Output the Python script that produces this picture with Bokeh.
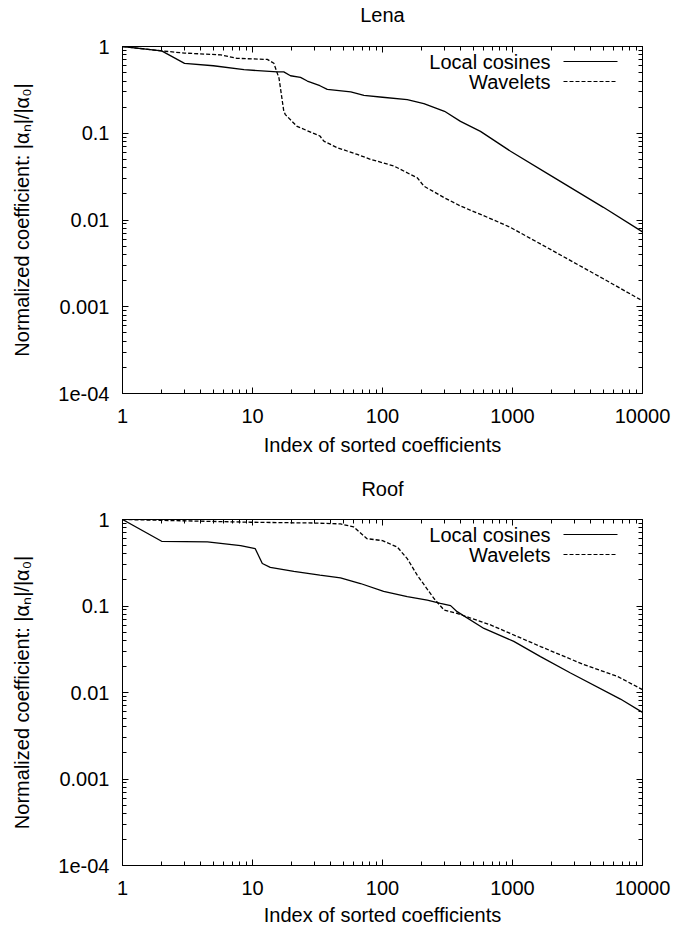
from bokeh.plotting import figure
from bokeh.models import (LogAxis, FixedTicker, CustomJSTickFormatter, Arrow,
                          Label, Range1d, ColumnDataSource)
from bokeh.layouts import column
from bokeh.embed import file_html
from bokeh.resources import INLINE

# ---------------- data ----------------
lena_lc_n = [1, 2, 3, 5, 8.6, 15.5, 17.4, 19.6, 23.4, 26.4, 33, 37.6, 57, 72, 100, 155,
             208, 300, 398, 567, 966, 2000, 5000, 10000]
lena_lc_v = [1.0, 0.89, 0.64, 0.60, 0.54, 0.51, 0.51, 0.46, 0.44, 0.40, 0.353, 0.32, 0.30,
             0.273, 0.26, 0.244, 0.22, 0.179, 0.137, 0.105, 0.062, 0.032, 0.014, 0.0073]

lena_wv_n = [1, 2, 3, 5.7, 7.6, 13, 14.6, 16, 17.4, 17.9, 22, 33, 35.4, 45, 64, 81, 122,
             164, 185, 208, 300, 398, 718, 966, 2000, 5000, 10000]
lena_wv_v = [1.0, 0.89, 0.84, 0.80, 0.73, 0.71, 0.64, 0.43, 0.18, 0.164, 0.12, 0.093, 0.081,
             0.068, 0.057, 0.05, 0.042, 0.0335, 0.0307, 0.0246, 0.018, 0.0145, 0.0100,
             0.0082, 0.0045, 0.0021, 0.00117]

roof_lc_n = [1, 2, 4.5, 8.1, 10.5, 11.9, 13.7, 20.8, 33, 47.5, 67.7, 102, 155, 221, 279,
             334, 375, 603, 1023, 1642, 2795, 6766, 10000]
roof_lc_v = [1.0, 0.56, 0.55, 0.50, 0.46, 0.31, 0.28, 0.252, 0.227, 0.212, 0.182, 0.148,
             0.128, 0.117, 0.107, 0.101, 0.086, 0.055, 0.039, 0.026, 0.0168, 0.0084, 0.0059]

roof_wv_n = [1, 9.7, 30, 47.5, 60, 76, 100, 130, 155, 185, 248, 297, 375, 677, 1642, 3540,
             6383, 10000]
roof_wv_v = [1.0, 0.93, 0.91, 0.89, 0.82, 0.60, 0.57, 0.48, 0.353, 0.227, 0.123, 0.09,
             0.082, 0.0605, 0.034, 0.021, 0.0154, 0.0108]

series_names = ["Local cosines", "Wavelets"]
series_dash = ["solid", "4 2"]
panel_titles = ["Lena", "Roof"]

x_tick_values = [1, 10, 100, 1000, 10000]
x_tick_labels = ["1", "10", "100", "1000", "10000"]
y_tick_values = [1e-4, 1e-3, 1e-2, 1e-1, 1]
y_tick_labels = ["1e-04", "0.001", "0.01", "0.1", "1"]

x_label = "Index of sorted coefficients"
y_label = "Normalized coefficient: |\u03b1\u2099|/|\u03b1\u2080|"

FONT = "Liberation Sans"
FS = "20px"


def minor_for(major):
    out = []
    for m in major[:-1]:
        out += [m * k for k in range(2, 10)]
    return out


fmt_code = """
for (let i = 0; i < vals.length; i++) {
  if (Math.abs(Math.log10(tick) - Math.log10(vals[i])) < 1e-6) return labs[i];
}
return '';
"""


def style_axis(ax, show_labels):
    ax.axis_line_color = "black"
    ax.axis_line_width = 1
    ax.major_tick_in = 6
    ax.major_tick_out = 0
    ax.minor_tick_in = 4
    ax.minor_tick_out = 0
    ax.major_tick_line_color = "black"
    ax.minor_tick_line_color = "black"
    ax.major_tick_line_width = 1
    ax.minor_tick_line_width = 1
    ax.major_label_text_font = FONT
    ax.major_label_text_font_size = FS if show_labels else "0px"
    ax.major_label_text_color = "black"
    ax.axis_label_text_font = FONT
    ax.axis_label_text_font_size = FS
    ax.axis_label_text_font_style = "normal"
    ax.axis_label_text_color = "black"


def make_panel(title, lc_n, lc_v, wv_n, wv_v, height, top_border, bottom_border,
               frame_h, xlabel_standoff, title_gap):
    xt = FixedTicker(ticks=x_tick_values, minor_ticks=minor_for(x_tick_values))
    yt = FixedTicker(ticks=y_tick_values, minor_ticks=minor_for(y_tick_values))
    xf = CustomJSTickFormatter(args=dict(vals=x_tick_values, labs=x_tick_labels), code=fmt_code)
    yf = CustomJSTickFormatter(args=dict(vals=y_tick_values, labs=y_tick_labels), code=fmt_code)

    p = figure(width=681, height=height, x_axis_type="log", y_axis_type="log",
               x_range=Range1d(1, 10000), y_range=Range1d(1e-4, 1),
               output_backend="svg", toolbar_location=None, title=None,
               min_border_left=122, min_border_right=39,
               min_border_top=top_border, min_border_bottom=bottom_border)
    p.xgrid.visible = False
    p.ygrid.visible = False
    p.outline_line_color = "black"
    p.background_fill_color = "white"
    p.border_fill_color = "white"

    xa = p.xaxis[0]
    xa.ticker = xt
    xa.formatter = xf
    xa.axis_label = x_label
    xa.major_label_standoff = 15
    xa.axis_label_standoff = xlabel_standoff
    style_axis(xa, True)

    ya = p.yaxis[0]
    ya.ticker = yt
    ya.formatter = yf
    ya.axis_label = y_label
    ya.major_label_standoff = 13
    ya.axis_label_standoff = 22
    style_axis(ya, True)

    blank = CustomJSTickFormatter(code="return '';")
    # mirrored top axis (gnuplot style); it carries the panel title, centred
    top = LogAxis(ticker=xt, formatter=blank, major_label_standoff=0,
                  axis_label=title, axis_label_standoff=title_gap)
    style_axis(top, False)
    p.add_layout(top, "above")
    right = LogAxis(ticker=yt, formatter=blank, major_label_standoff=0)
    style_axis(right, False)
    p.add_layout(right, "right")

    src_lc = ColumnDataSource(dict(n=lc_n, v=lc_v))
    src_wv = ColumnDataSource(dict(n=wv_n, v=wv_v))
    p.line("n", "v", source=src_lc, line_color="black", line_width=1.3,
           line_dash=series_dash[0])
    p.line("n", "v", source=src_wv, line_color="black", line_width=1.3,
           line_dash=series_dash[1])

    # gnuplot-style key: text right-aligned, sample line to its right
    for i, name in enumerate(series_names):
        ky = frame_h - 16 - 20 * i
        p.add_layout(Label(x=428, y=ky, x_units="screen", y_units="screen",
                           text=name, text_align="right", text_baseline="middle",
                           text_font=FONT, text_font_size=FS, text_color="black"))
        p.add_layout(Arrow(x_start=441, y_start=ky, x_end=495, y_end=ky,
                           start_units="screen", end_units="screen", end=None,
                           line_color="black", line_width=1.2,
                           line_dash=series_dash[i]))
    return p


p1 = make_panel(panel_titles[0], lena_lc_n, lena_lc_v, lena_wv_n, lena_wv_v,
                height=465, top_border=45, bottom_border=72, frame_h=348,
                xlabel_standoff=8, title_gap=21)
p2 = make_panel(panel_titles[1], roof_lc_n, roof_lc_v, roof_wv_n, roof_wv_v,
                height=463, top_border=54, bottom_border=62, frame_h=347,
                xlabel_standoff=6, title_gap=20)

layout = column(p1, p2, spacing=0)
open("out.html", "w").write(file_html(layout, INLINE))
